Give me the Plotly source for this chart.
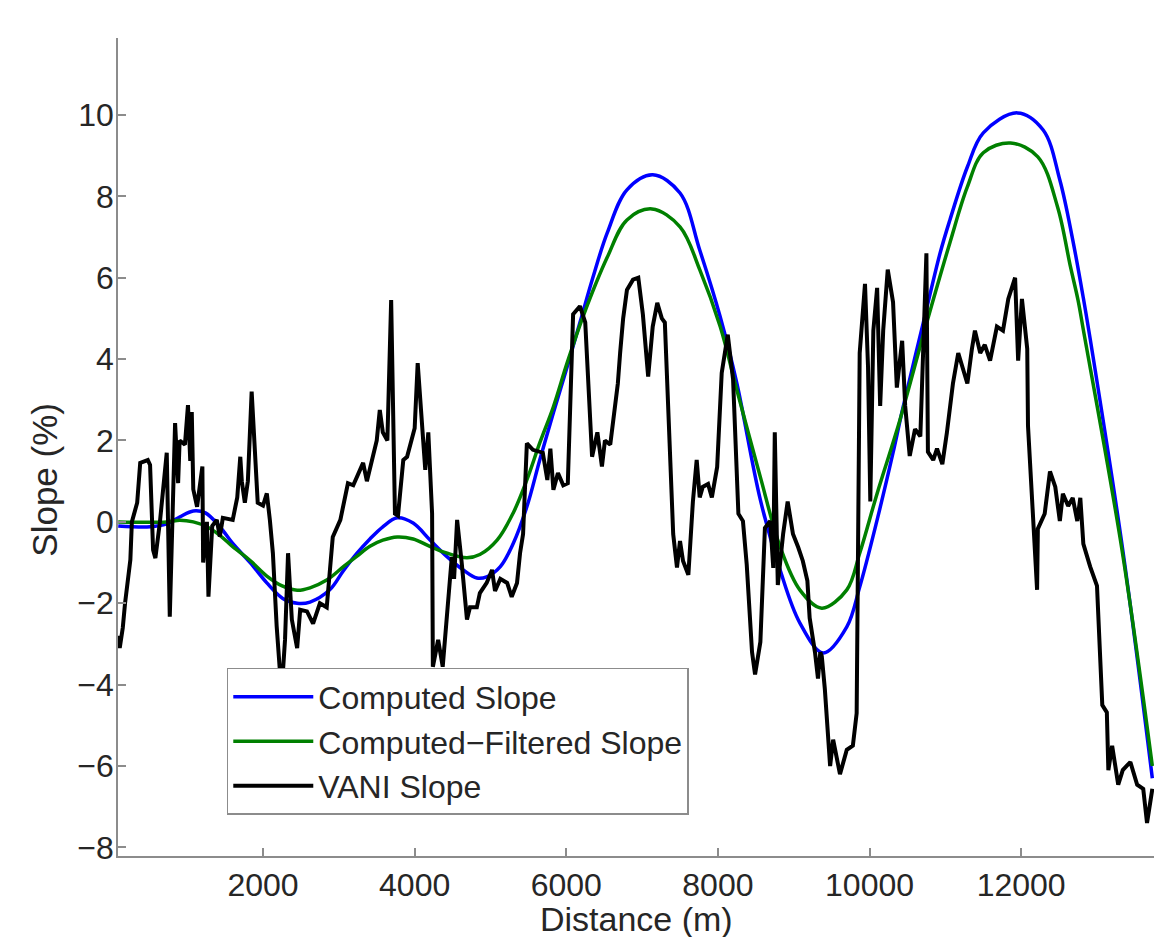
import plotly.graph_objects as go

# ---------------- data ----------------
blue_x = [90, 510, 730, 900, 1080, 1240, 1430, 1600, 1830, 2050, 2260, 2450, 2620, 2880,
          3060, 3240, 3410, 3580, 3770, 3980, 4200, 4430, 4640, 4820, 4950, 5130, 5300,
          5480, 5650, 5830, 6010, 6180, 6350, 6540, 6800, 7140, 7500, 7760, 8030, 8250,
          8560, 8820, 9080, 9390, 9700, 9870, 10100, 10310, 10440, 10710, 10930, 11060,
          11290, 11500, 11950, 12290, 12510, 12680, 12820, 12910, 13340, 13730]
blue_y = [-0.1, -0.12, -0.05, 0.12, 0.27, 0.22, -0.12, -0.53, -1.0, -1.5, -1.88, -2.0,
          -1.97, -1.67, -1.2, -0.77, -0.42, -0.12, 0.1, -0.03, -0.44, -0.86, -1.18, -1.38,
          -1.35, -1.1, -0.53, 0.37, 1.52, 2.68, 3.8, 4.9, 6.0, 7.1, 8.16, 8.53, 8.08, 6.68,
          5.04, 3.4, 0.54, -1.18, -2.48, -3.22, -2.58, -1.6, 0.05, 1.7, 2.8, 4.9, 6.6, 7.42,
          8.72, 9.56, 10.05, 9.63, 8.4, 6.93, 5.5, 4.5, -0.69, -6.3]

green_x = [90, 730, 900, 1080, 1260, 1430, 1600, 1830, 2050, 2260, 2450, 2620, 2840, 3060,
           3240, 3410, 3580, 3770, 3980, 4200, 4430, 4690, 4860, 5090, 5300, 5480, 5650,
           5830, 6010, 6220, 6540, 6800, 7130, 7500, 7760, 8030, 8250, 8560, 8820, 9080,
           9370, 9700, 9870, 10100, 10400, 10740, 11060, 11290, 11500, 11860, 12220, 12480,
           12650, 12750, 12820, 13330, 13730]
green_y = [0.0, 0.0, 0.04, 0.0, -0.12, -0.33, -0.61, -0.95, -1.33, -1.58, -1.68, -1.62,
           -1.43, -1.1, -0.84, -0.6, -0.45, -0.37, -0.42, -0.6, -0.77, -0.88, -0.8, -0.44,
           0.22, 1.03, 1.94, 2.83, 3.9, 5.04, 6.5, 7.42, 7.69, 7.25, 6.2, 4.8, 3.24, 1.1,
           -0.61, -1.67, -2.12, -1.67, -0.77, 0.7, 2.5, 4.8, 6.86, 8.23, 9.07, 9.31, 8.97,
           7.74, 6.27, 5.45, 4.72, -0.69, -6.0]

vani_x = [90, 110, 150, 180, 250, 270, 340, 380, 480, 510, 550, 580, 640, 730, 770, 800,
          840, 880, 900, 970, 1010, 1040, 1060, 1080, 1130, 1200, 1210, 1260, 1280, 1330,
          1390, 1430, 1470, 1600, 1660, 1700, 1720, 1760, 1800, 1850, 1890, 1930, 2000,
          2050, 2090, 2130, 2180, 2220, 2260, 2290, 2330, 2380, 2450, 2490, 2580, 2660,
          2750, 2840, 2920, 3020, 3120, 3190, 3320, 3370, 3500, 3540, 3580, 3640, 3690,
          3740, 3780, 3850, 3900, 3970, 4000, 4040, 4100, 4140, 4180, 4230, 4240, 4310,
          4370, 4430, 4490, 4520, 4560, 4620, 4690, 4730, 4820, 4860, 4950, 5020, 5060,
          5130, 5220, 5280, 5350, 5390, 5430, 5480, 5560, 5690, 5750, 5790, 5830, 5890,
          5960, 6020, 6090, 6180, 6250, 6340, 6410, 6470, 6510, 6580, 6640, 6680, 6710,
          6750, 6800, 6880, 6950, 7010, 7080, 7140, 7200, 7260, 7300, 7370, 7410, 7460,
          7500, 7540, 7610, 7670, 7720, 7760, 7800, 7870, 7920, 7990, 8050, 8130, 8200,
          8270, 8330, 8380, 8450, 8490, 8560, 8620, 8690, 8730, 8750, 8790, 8860, 8920,
          8990, 9060, 9120, 9180, 9210, 9280, 9320, 9350, 9370, 9410, 9480, 9520, 9610,
          9700, 9780, 9830, 9870, 9940, 9980, 10010, 10050, 10100, 10140, 10180, 10240,
          10310, 10360, 10430, 10470, 10530, 10600, 10670, 10710, 10750, 10770, 10840,
          10890, 10960, 11020, 11100, 11170, 11230, 11290, 11350, 11390, 11460, 11520,
          11590, 11680, 11760, 11830, 11920, 11960, 12010, 12080, 12090, 12160, 12210,
          12220, 12310, 12380, 12450, 12510, 12550, 12620, 12680, 12740, 12780, 12820,
          12910, 13000, 13070, 13130, 13150, 13200, 13280, 13340, 13440, 13530, 13610,
          13660, 13730]
vani_y = [-2.8, -3.1, -2.6, -2.0, -0.93, 0.0, 0.47, 1.45, 1.52, 1.4, -0.69, -0.89, 0.0,
          1.7, -2.33, -0.6, 2.43, 0.95, 2.0, 1.9, 2.87, 1.5, 2.7, 0.8, 0.37, 1.36, -1.0,
          0.0, -1.84, -0.1, 0.05, -0.36, 0.1, 0.05, 0.6, 1.6, 1.0, 0.47, 1.0, 3.2, 2.0,
          0.47, 0.4, 0.7, 0.05, -0.77, -2.57, -3.6, -3.75, -2.9, -0.77, -2.4, -3.1, -2.16,
          -2.2, -2.5, -2.0, -2.1, -0.37, 0.05, 0.95, 0.9, 1.45, 1.0, 2.0, 2.75, 2.2, 2.0,
          5.45, 0.2, 0.15, 1.52, 1.6, 2.1, 2.3, 3.9, 2.2, 1.28, 2.2, 0.2, -3.56, -2.9,
          -3.56, -2.24, -0.86, -1.4, 0.05, -1.0, -2.4, -2.1, -2.1, -1.75, -1.5, -1.18,
          -1.7, -1.4, -1.5, -1.84, -1.5, -0.77, -0.3, 1.93, 1.77, 1.7, 1.03, 1.8, 0.79,
          1.2, 0.9, 0.95, 5.1, 5.3, 4.9, 1.6, 2.2, 1.36, 2.0, 1.9, 2.9, 3.4, 4.15, 5.0,
          5.7, 5.95, 6.0, 5.1, 3.57, 4.8, 5.38, 5.0, 4.9, 1.85, -0.3, -1.12, -0.47, -0.96,
          -1.3, 0.5, 1.52, 0.6, 0.86, 0.93, 0.6, 1.35, 3.66, 4.6, 3.5, 0.2, 0.02, -1.05,
          -3.2, -3.75, -2.95, -0.15, 0.02, -1.13, 2.2, -1.55, -0.3, 0.5, -0.3, -0.63,
          -0.96, -1.45, -2.36, -3.2, -3.85, -3.2, -3.3, -4.1, -6.0, -5.35, -6.2, -5.6,
          -5.5, -4.7, 4.15, 5.85, 3.8, 0.5, 4.7, 5.75, 2.85, 4.7, 6.2, 5.4, 3.3, 4.45,
          2.85, 1.62, 2.28, 2.1, 4.05, 6.6, 1.72, 1.52, 1.8, 1.42, 2.19, 3.4, 4.15, 3.8,
          3.4, 4.25, 4.7, 4.15, 4.35, 3.96, 4.8, 4.7, 5.48, 6.0, 3.96, 5.48, 4.25, 2.36,
          -0.17, -1.67, -0.17, 0.2, 1.24, 0.86, 0.02, 0.69, 0.39, 0.59, 0.02, 0.59, -0.54,
          -1.1, -1.57, -4.5, -4.68, -6.1, -5.5, -6.46, -6.1, -5.9, -6.46, -6.56, -7.4,
          -6.56]

x_ticks = [2000, 4000, 6000, 8000, 10000, 12000]
x_tick_labels = ["2000", "4000", "6000", "8000", "10000", "12000"]
y_ticks = [-8, -6, -4, -2, 0, 2, 4, 6, 8, 10]
x_range = [87, 13752]
y_range = [-8.21, 11.89]

# ---------------- figure ----------------
FONT = "Liberation Sans, Arial, Helvetica, sans-serif"
AXIS_GREY = "#8c8c8c"
TEXT = "#262626"

fig = go.Figure()
fig.add_trace(go.Scatter(x=blue_x, y=blue_y, mode="lines", name="Computed Slope",
                         line=dict(color="#0000ff", width=3.5, shape="spline")))
fig.add_trace(go.Scatter(x=green_x, y=green_y, mode="lines", name="Computed\u2212Filtered Slope",
                         line=dict(color="#008000", width=3.5, shape="spline")))
fig.add_trace(go.Scatter(x=vani_x, y=vani_y, mode="lines", name="VANI Slope",
                         line=dict(color="#000000", width=4)))

axis_common = dict(showline=True, linecolor=AXIS_GREY, linewidth=1.5, ticks="inside",
                   ticklen=8, tickwidth=1.5, tickcolor=AXIS_GREY, showgrid=False,
                   zeroline=False, mirror=False, automargin=False,
                   tickfont=dict(family=FONT, size=32, color=TEXT))

fig.update_xaxes(range=x_range, tickvals=x_ticks, ticktext=x_tick_labels, **axis_common)
fig.update_yaxes(range=y_range, tickvals=y_ticks, ticklabelstandoff=-4, **axis_common)

fig.update_layout(
    width=1154, height=937, autosize=False,
    margin=dict(l=118, r=0, t=38, b=81),
    paper_bgcolor="white", plot_bgcolor="white",
    font=dict(family=FONT, color=TEXT),
    legend=dict(x=0.105, y=0.23, xanchor="left", yanchor="top",
                bgcolor="white", bordercolor=AXIS_GREY, borderwidth=1.5,
                font=dict(family=FONT, size=32, color=TEXT), itemwidth=80),
    annotations=[
        dict(text="Distance (m)", xref="paper", yref="paper", x=0.5, y=-0.077,
             xanchor="center", yanchor="middle", showarrow=False,
             font=dict(family=FONT, size=34, color=TEXT)),
        dict(text="Slope (%)", xref="paper", yref="paper", x=-0.0705, y=0.46,
             xanchor="center", yanchor="middle", showarrow=False, textangle=-90,
             font=dict(family=FONT, size=35, color=TEXT)),
    ],
)

# remove the page's default 8px body margin so the figure fills the window exactly
fig.write_html("out.html", default_width="1154px", default_height="937px",
               config={"displayModeBar": False},
               post_script="document.body.style.margin='0';"
                           "document.body.style.overflow='hidden';")
